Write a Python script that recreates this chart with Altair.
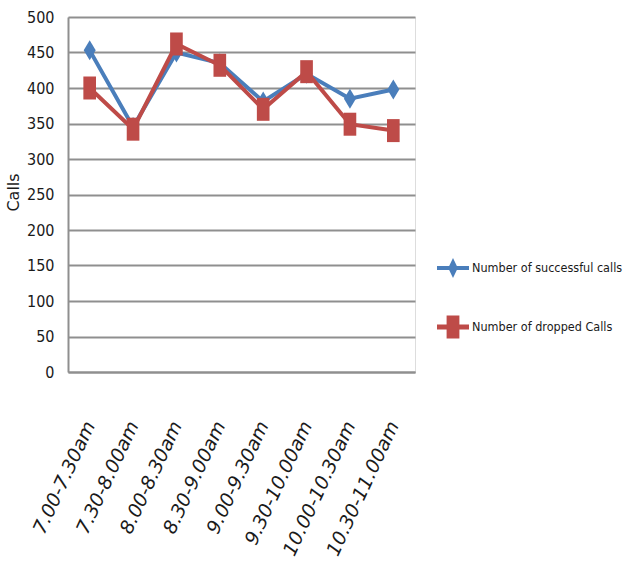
import altair as alt
import pandas as pd

categories = ["7.00-7.30am", "7.30-8.00am", "8.00-8.30am", "8.30-9.00am",
              "9.00-9.30am", "9.30-10.00am", "10.00-10.30am", "10.30-11.00am"]
successful = [453, 345, 450, 435, 381, 420, 385, 398]
dropped = [400, 342, 462, 432, 370, 423, 349, 340]
series_names = ["Number of successful calls", "Number of dropped Calls"]
y_ticks = [0, 50, 100, 150, 200, 250, 300, 350, 400, 450, 500]

rows = []
for c, s in zip(categories, successful):
    rows.append({"slot": c, "series": series_names[0], "calls": s})
for c, d in zip(categories, dropped):
    rows.append({"slot": c, "series": series_names[1], "calls": d})
df = pd.DataFrame(rows)

BLUE = "#4A7EBB"
RED = "#BE4B48"
GRID = "#8f8f8f"
NARROW = "DejaVu Sans Condensed, Liberation Sans, sans-serif"

blue_leg = "M-1,-0.12H-0.24L0,-0.62L0.24,-0.12H1V0.12H0.24L0,0.62L-0.24,0.12H-1Z"
red_leg = "M-1,-0.15H-0.4V-0.72H0.4V-0.15H1V0.15H0.4V0.72H-0.4V0.15H-1Z"
diamond = "M0,-1L0.6,0L0,1L-0.6,0Z"
rect = "M-0.55,-1H0.55V1H-0.55Z"

legend = alt.Legend(
    title=None, orient="none", legendX=369, legendY=235, padding=0,
    symbolSize=1024, rowPadding=33, labelOffset=3,
    labelFont=NARROW, labelFontSize=12.5, labelColor="#1a1a1a",
    labelLimit=400, symbolStrokeWidth=0, symbolOpacity=1,
)

x = alt.X("slot:N", sort=categories, scale=alt.Scale(type="point", padding=0.5),
          axis=alt.Axis(title=None, labelAngle=-65, labelFont="DejaVu Sans",
                        labelFontStyle="italic", labelFontSize=19, labelColor="#1a1a1a",
                        labelPadding=50, ticks=False, domainColor=GRID, domainWidth=2,
                        grid=False, labelOverlap=False))
y = alt.Y("calls:Q", scale=alt.Scale(domain=[0, 500], nice=False),
          axis=alt.Axis(title="Calls", values=y_ticks, ticks=False,
                        labelFont=NARROW, labelFontSize=16,
                        labelColor="#1a1a1a", labelPadding=14,
                        domainColor=GRID, domainWidth=2,
                        grid=True, gridColor=GRID, gridWidth=2,
                        titleFont="DejaVu Sans", titleFontSize=16, titleFontWeight="normal",
                        titleColor="#1a1a1a", titleX=-55, titleY=175,
                        titleAlign="center", titleBaseline="middle", titleAngle=-90))
color = alt.Color("series:N", scale=alt.Scale(domain=series_names, range=[BLUE, RED]),
                  legend=legend)
shape = alt.Shape("series:N", scale=alt.Scale(domain=series_names, range=[blue_leg, red_leg]),
                  legend=legend)

base = alt.Chart(df)
layers = []
for name, shp, sz in zip(series_names, [diamond, rect], [400, 529]):
    f = base.transform_filter(alt.datum.series == name)
    layers.append(f.mark_line(strokeWidth=4).encode(x=x, y=y, color=color))
    layers.append(f.mark_point(filled=True, opacity=1, size=sz, shape=shp).encode(
        x=x, y=y, color=color))
# empty layer that only carries the legend symbols
layers.append(base.transform_filter("false").mark_point(filled=True).encode(
    x=x, y=y, color=color, shape=shape))

chart = alt.layer(*layers).properties(
    width=347, height=355,
    autosize=alt.AutoSizeParams(type="none"),
    padding={"left": 68, "top": 17, "right": 215, "bottom": 203},
).configure_view(stroke=None).configure(background="white")

chart.save("out.html", embed_options={"renderer": "svg", "actions": False})
